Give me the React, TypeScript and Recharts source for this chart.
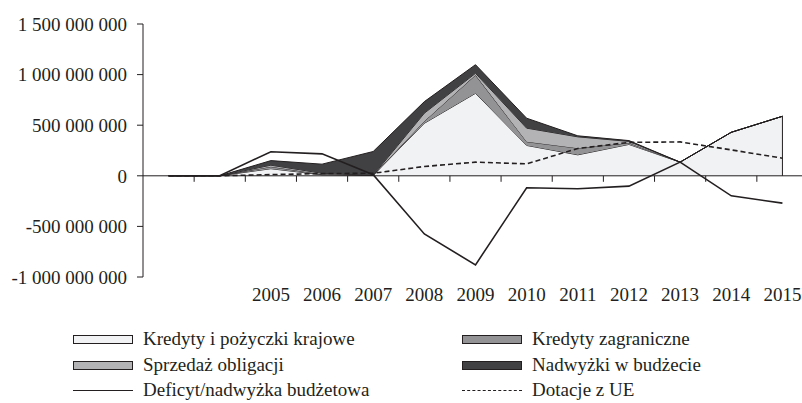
import React from 'react';
import { AreaChart, Area, Line, XAxis, YAxis, ReferenceLine } from 'recharts';

// categories (first two years have no label on the axis)
const years = ['2003', '2004', '2005', '2006', '2007', '2008', '2009', '2010', '2011', '2012', '2013', '2014', '2015'];
const tickLabels = ['', '', '2005', '2006', '2007', '2008', '2009', '2010', '2011', '2012', '2013', '2014', '2015'];

// values in million PLN
const kredytyKrajowe = [0, 0, 70, 10, 5, 519, 815, 300, 207, 310, 135, 430, 588];
const kredytyZagraniczne = [0, 0, 20, 5, 0, 20, 180, 37, 66, 15, 0, 0, 0];
const sprzedazObligacji = [0, 0, 15, 10, 0, 80, 18, 134, 112, 15, 0, 0, 0];
const nadwyzki = [0, 0, 45, 90, 235, 114, 85, 98, 10, 8, 0, 0, 0];
const deficyt = [0, 0, 238, 217, 10, -575, -880, -118, -128, -102, 135, -198, -270];
const dotacje = [0, 0, 12, 22, 25, 92, 135, 118, 270, 330, 335, 256, 174];

const yTicks = [-1000000000, -500000000, 0, 500000000, 1000000000, 1500000000];

const data = years.map((year, i) => ({
  year,
  krajowe: kredytyKrajowe[i] * 1e6,
  zagraniczne: kredytyZagraniczne[i] * 1e6,
  obligacje: sprzedazObligacji[i] * 1e6,
  nadwyzki: nadwyzki[i] * 1e6,
  deficyt: deficyt[i] * 1e6,
  dotacje: dotacje[i] * 1e6
}));

const lastIdx = years.length - 1;
const lastStackTop =
  (kredytyKrajowe[lastIdx] + kredytyZagraniczne[lastIdx] + sprzedazObligacji[lastIdx] + nadwyzki[lastIdx]) * 1e6;

const FONT = '"Liberation Serif", "Times New Roman", serif';
const INK = '#231f20';

const CHART_W = 810;
const CHART_H = 403;
const PLOT_LEFT = 143;
const PLOT_TOP = 24;
const PLOT_H = 253;
const PLOT_W = CHART_W - PLOT_LEFT - 2;
const BAND = PLOT_W / years.length;
const Y_MIN = yTicks[0];
const Y_MAX = yTicks[yTicks.length - 1];
const ZERO_Y = PLOT_TOP + (PLOT_H * Y_MAX) / (Y_MAX - Y_MIN);

const formatNumber = (v: number) => {
  const s = String(Math.abs(v)).replace(/\B(?=(\d{3})+(?!\d))/g, ' ');
  return v < 0 ? '-' + s : s;
};

// year label at the bottom + tick mark on the zero line between categories
const YearTick = (props: any) => {
  const { x, y, payload } = props;
  const idx = years.indexOf(payload.value);
  const bx = x - BAND / 2;
  return (
    <g>
      {idx > 0 && <line x1={bx} x2={bx} y1={ZERO_Y} y2={ZERO_Y + 6} stroke={INK} strokeWidth={1} />}
      <text x={x} y={y} dy="0.71em" textAnchor="middle" fill={INK} fontSize={19} fontFamily={FONT}>
        {tickLabels[idx]}
      </text>
    </g>
  );
};

const legendItems = [
  { name: 'Kredyty i pożyczki krajowe', kind: 'box', color: '#f1f2f4', col: 0, row: 0 },
  { name: 'Kredyty zagraniczne', kind: 'box', color: '#939395', col: 1, row: 0 },
  { name: 'Sprzedaż obligacji', kind: 'box', color: '#b3b3b5', col: 0, row: 1 },
  { name: 'Nadwyżki w budżecie', kind: 'box', color: '#414143', col: 1, row: 1 },
  { name: 'Deficyt/nadwyżka budżetowa', kind: 'line', color: INK, col: 0, row: 2 },
  { name: 'Dotacje z UE', kind: 'dash', color: INK, col: 1, row: 2 }
];
const legendColX = [73, 462];
const legendRowY = [339, 365, 390];

const App: React.FC = () => {
  return (
    <div style={{ position: 'relative', width: 802, height: 403, overflow: 'hidden', background: '#fff' }}>
      <style>{'html,body{margin:0;overflow:hidden}'}</style>
      <AreaChart
        width={CHART_W}
        height={CHART_H}
        data={data}
        margin={{ top: PLOT_TOP, right: 2, left: 0, bottom: CHART_H - PLOT_TOP - PLOT_H - 30 }}
      >
        <XAxis
          dataKey="year"
          axisLine={false}
          tickLine={false}
          tickSize={6}
          tickMargin={5}
          height={30}
          interval={0}
          padding={{ left: BAND / 2, right: BAND / 2 }}
          tick={<YearTick />}
        />
        <YAxis
          width={PLOT_LEFT}
          domain={[Y_MIN, Y_MAX]}
          ticks={yTicks}
          tickFormatter={formatNumber}
          axisLine={{ stroke: INK }}
          tickLine={{ stroke: INK }}
          tickSize={6}
          tickMargin={10}
          tick={{ fill: INK, fontSize: 19, fontFamily: FONT }}
        />
        <ReferenceLine y={0} stroke={INK} strokeWidth={1} />
        <Area dataKey="krajowe" stackId="a" type="linear" fill="#f1f2f4" fillOpacity={1} stroke={INK} strokeWidth={1} isAnimationActive={false} />
        <Area dataKey="zagraniczne" stackId="a" type="linear" fill="#939395" fillOpacity={1} stroke={INK} strokeWidth={1} isAnimationActive={false} />
        <Area dataKey="obligacje" stackId="a" type="linear" fill="#b3b3b5" fillOpacity={1} stroke={INK} strokeWidth={1} isAnimationActive={false} />
        <Area dataKey="nadwyzki" stackId="a" type="linear" fill="#414143" fillOpacity={1} stroke={INK} strokeWidth={1} isAnimationActive={false} />
        {/* closing edge of the stacked areas at the last year */}
        <ReferenceLine
          segment={[
            { x: years[lastIdx], y: 0 },
            { x: years[lastIdx], y: lastStackTop }
          ]}
          stroke={INK}
          strokeWidth={1}
        />
        <Line dataKey="deficyt" type="linear" stroke={INK} strokeWidth={1.6} dot={false} isAnimationActive={false} />
        <Line dataKey="dotacje" type="linear" stroke={INK} strokeWidth={1.6} strokeDasharray="5 3" dot={false} isAnimationActive={false} />
      </AreaChart>

      {legendItems.map((item) => (
        <div
          key={item.name}
          style={{
            position: 'absolute',
            left: legendColX[item.col],
            top: legendRowY[item.row] - 11,
            height: 22,
            display: 'flex',
            alignItems: 'center',
            fontFamily: FONT,
            fontSize: 19,
            color: INK,
            whiteSpace: 'nowrap'
          }}
        >
          {item.kind === 'box' && (
            <div style={{ width: 58, height: 7, border: `1px solid ${INK}`, background: item.color }} />
          )}
          {item.kind === 'line' && <div style={{ width: 60, height: 0, borderTop: `1.5px solid ${INK}` }} />}
          {item.kind === 'dash' && <div style={{ width: 60, height: 0, borderTop: `1.5px dashed ${INK}` }} />}
          <span style={{ marginLeft: 10 }}>{item.name}</span>
        </div>
      ))}
    </div>
  );
};

export default App;
